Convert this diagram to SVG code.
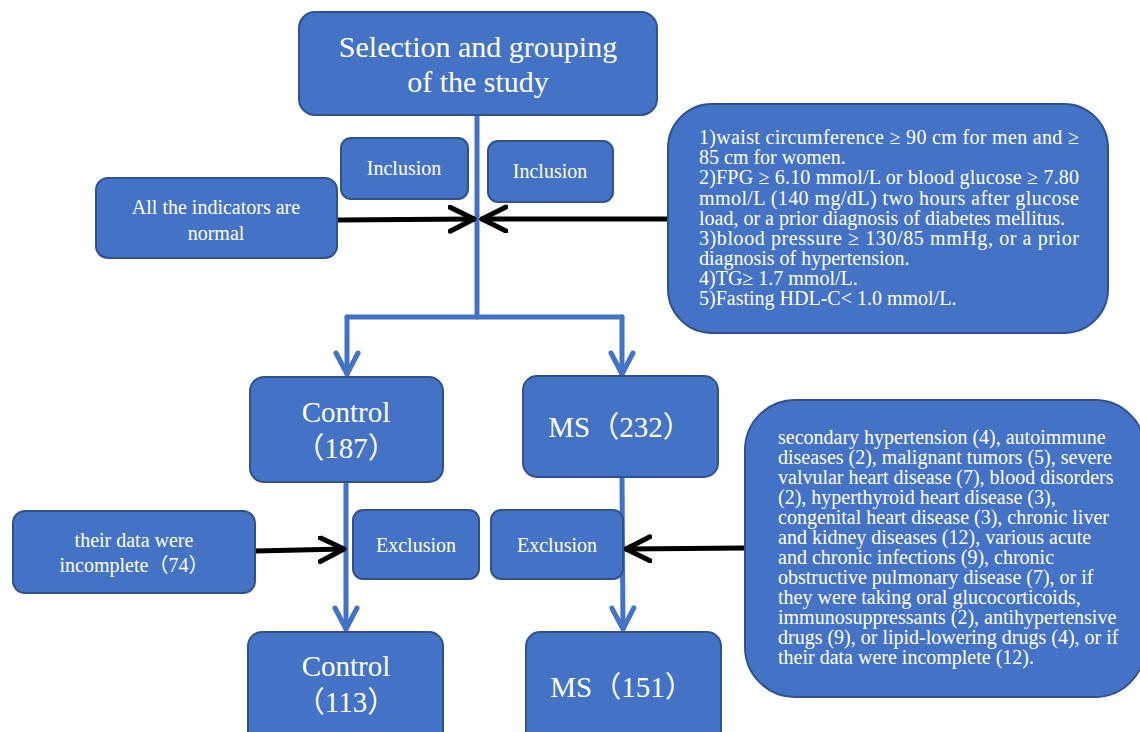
<svg xmlns="http://www.w3.org/2000/svg" width="1140" height="732" viewBox="0 0 1140 732">
<style>
.box{fill:#4472C4;stroke:#2F528F;stroke-width:2}
.t{font-family:"Liberation Serif","Noto Sans CJK SC",serif;fill:#ffffff}
.c{text-anchor:middle}
.s{font-size:20px}
.blue{stroke:#4472C4;stroke-width:5;fill:none;stroke-linecap:round;stroke-linejoin:round}
.blk{stroke:#000000;stroke-width:5;fill:none;stroke-linecap:round;stroke-linejoin:round}
</style>
<defs>
<marker id="ab" markerUnits="userSpaceOnUse" markerWidth="40" markerHeight="40" refX="24" refY="14" orient="auto" viewBox="0 0 40 40">
<path d="M3,3 L24,14 L3,25" stroke="#4472C4" stroke-width="5" fill="none" stroke-linecap="round" stroke-linejoin="round"/>
</marker>
<marker id="ak" markerUnits="userSpaceOnUse" markerWidth="40" markerHeight="40" refX="26" refY="14" orient="auto" viewBox="0 0 40 40">
<path d="M2,2 L26,14 L2,26" stroke="#000000" stroke-width="5" fill="none" stroke-linecap="round" stroke-linejoin="round"/>
</marker>
</defs>
<rect width="1140" height="732" fill="#ffffff"/>

<g id="connectors">
<line class="blue" x1="477" y1="115" x2="477" y2="317"/>
<line class="blue" x1="347" y1="317" x2="622" y2="317"/>
<line class="blue" x1="622" y1="317" x2="622" y2="374" marker-end="url(#ab)"/>
<line class="blue" x1="347" y1="317" x2="347" y2="374" marker-end="url(#ab)"/>
<line class="blue" x1="346" y1="482" x2="346" y2="629" marker-end="url(#ab)"/>
<line class="blue" x1="622" y1="477" x2="623" y2="629" marker-end="url(#ab)"/>
<line class="blk" x1="338" y1="220" x2="474" y2="219" marker-end="url(#ak)"/>
<line class="blk" x1="668" y1="219" x2="482" y2="219" marker-end="url(#ak)"/>
<line class="blk" x1="255" y1="551" x2="344" y2="549" marker-end="url(#ak)"/>
<line class="blk" x1="745" y1="548" x2="626" y2="549" marker-end="url(#ak)"/>
</g>

<g id="title">
<rect class="box" x="299" y="12" width="358" height="103" rx="16"/>
<text class="t c" x="478" y="57" font-size="30">Selection and grouping</text>
<text class="t c" x="478" y="92" font-size="30">of the study</text>
</g>

<g id="inclusion-left">
<rect class="box" x="341" y="138" width="127" height="61" rx="10"/>
<text class="t c s" x="404" y="175">Inclusion</text>
</g>

<g id="inclusion-right">
<rect class="box" x="488" y="141" width="125" height="61" rx="10"/>
<text class="t c s" x="550" y="178">Inclusion</text>
</g>

<g id="normal">
<rect class="box" x="96" y="178" width="241" height="80" rx="12"/>
<text class="t c s" x="216" y="214">All the indicators are</text>
<text class="t c s" x="216" y="240">normal</text>
</g>

<g id="criteria">
<rect class="box" x="668" y="104" width="440" height="229" rx="44"/>
<g class="t s">
<text x="699" y="144" textLength="380" lengthAdjust="spacing">1)waist circumference ≥ 90 cm for men and ≥</text>
<text x="699" y="164">85 cm for women.</text>
<text x="699" y="184" textLength="380" lengthAdjust="spacing">2)FPG ≥ 6.10 mmol/L or blood glucose ≥ 7.80</text>
<text x="699" y="205" textLength="380" lengthAdjust="spacing">mmol/L (140 mg/dL) two hours after glucose</text>
<text x="699" y="225">load, or a prior diagnosis of diabetes mellitus.</text>
<text x="699" y="245" textLength="380" lengthAdjust="spacing">3)blood pressure ≥ 130/85 mmHg, or a prior</text>
<text x="699" y="265">diagnosis of hypertension.</text>
<text x="699" y="285">4)TG≥ 1.7 mmol/L.</text>
<text x="699" y="305">5)Fasting HDL-C&lt; 1.0 mmol/L.</text>
</g>
</g>

<g id="control-187">
<rect class="box" x="250" y="377" width="193" height="105" rx="14"/>
<text class="t c" x="346" y="422" font-size="29">Control</text>
<text class="t c" x="346" y="458" font-size="29">（187）</text>
</g>

<g id="ms-232">
<rect class="box" x="523" y="376" width="195" height="101" rx="14"/>
<text class="t c" x="620" y="437" font-size="29">MS（232）</text>
</g>

<g id="incomplete">
<rect class="box" x="13" y="511" width="242" height="82" rx="12"/>
<text class="t c s" x="134" y="547">their data were</text>
<text class="t c s" x="134" y="572">incomplete（74）</text>
</g>

<g id="exclusion-left">
<rect class="box" x="353" y="510" width="126" height="69" rx="10"/>
<text class="t c s" x="416" y="552">Exclusion</text>
</g>

<g id="exclusion-right">
<rect class="box" x="491" y="510" width="132" height="69" rx="10"/>
<text class="t c s" x="557" y="552">Exclusion</text>
</g>

<g id="exclusion-criteria">
<rect class="box" x="745" y="400" width="400" height="297" rx="50"/>
<g class="t s">
<text x="778" y="444">secondary hypertension (4), autoimmune</text>
<text x="778" y="464">diseases (2), malignant tumors (5), severe</text>
<text x="778" y="484">valvular heart disease (7), blood disorders</text>
<text x="778" y="504">(2), hyperthyroid heart disease (3),</text>
<text x="778" y="524">congenital heart disease (3), chronic liver</text>
<text x="778" y="544">and kidney diseases (12), various acute</text>
<text x="778" y="564">and chronic infections (9), chronic</text>
<text x="778" y="584">obstructive pulmonary disease (7), or if</text>
<text x="778" y="604">they were taking oral glucocorticoids,</text>
<text x="778" y="624">immunosuppressants (2), antihypertensive</text>
<text x="778" y="644">drugs (9), or lipid-lowering drugs (4), or if</text>
<text x="778" y="664">their data were incomplete (12).</text>
</g>
</g>

<g id="control-113">
<rect class="box" x="248" y="632" width="195" height="115" rx="14"/>
<text class="t c" x="346" y="676" font-size="29">Control</text>
<text class="t c" x="346" y="712" font-size="29">（113）</text>
</g>

<g id="ms-151">
<rect class="box" x="526" y="632" width="195" height="115" rx="14"/>
<text class="t c" x="622" y="697" font-size="29">MS（151）</text>
</g>
</svg>
